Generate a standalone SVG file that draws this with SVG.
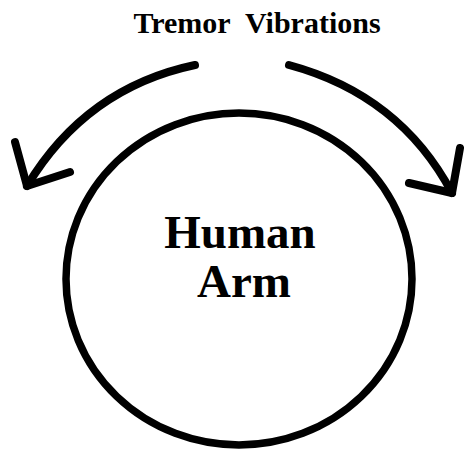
<svg xmlns="http://www.w3.org/2000/svg" width="464" height="450" viewBox="0 0 464 450">
<style>
.ln{fill:none;stroke:#000;stroke-width:8;stroke-linecap:round;stroke-linejoin:round}
.t{font-family:"Liberation Serif","Times New Roman",serif;font-weight:bold;fill:#000;text-anchor:middle}
</style>
<rect width="464" height="450" fill="#fff"/>
<text class="t" x="257" y="33" font-size="30" word-spacing="8">Tremor Vibrations</text>
<g id="arm">
<ellipse cx="239" cy="279" rx="173" ry="166" fill="none" stroke="#000" stroke-width="7.5"/>
<text class="t" x="240" y="248" font-size="47">Human</text>
<text class="t" x="244" y="297" font-size="47">Arm</text>
</g>
<g id="connectors">
<path class="ln" d="M195,65 Q86,88 27,186"/>
<path class="ln" d="M15,142 L27,186 L70,172"/>
<path class="ln" d="M289,65 Q400,95 452,193"/>
<path class="ln" d="M460,148 L452,193 L409,183"/>
</g>
</svg>
